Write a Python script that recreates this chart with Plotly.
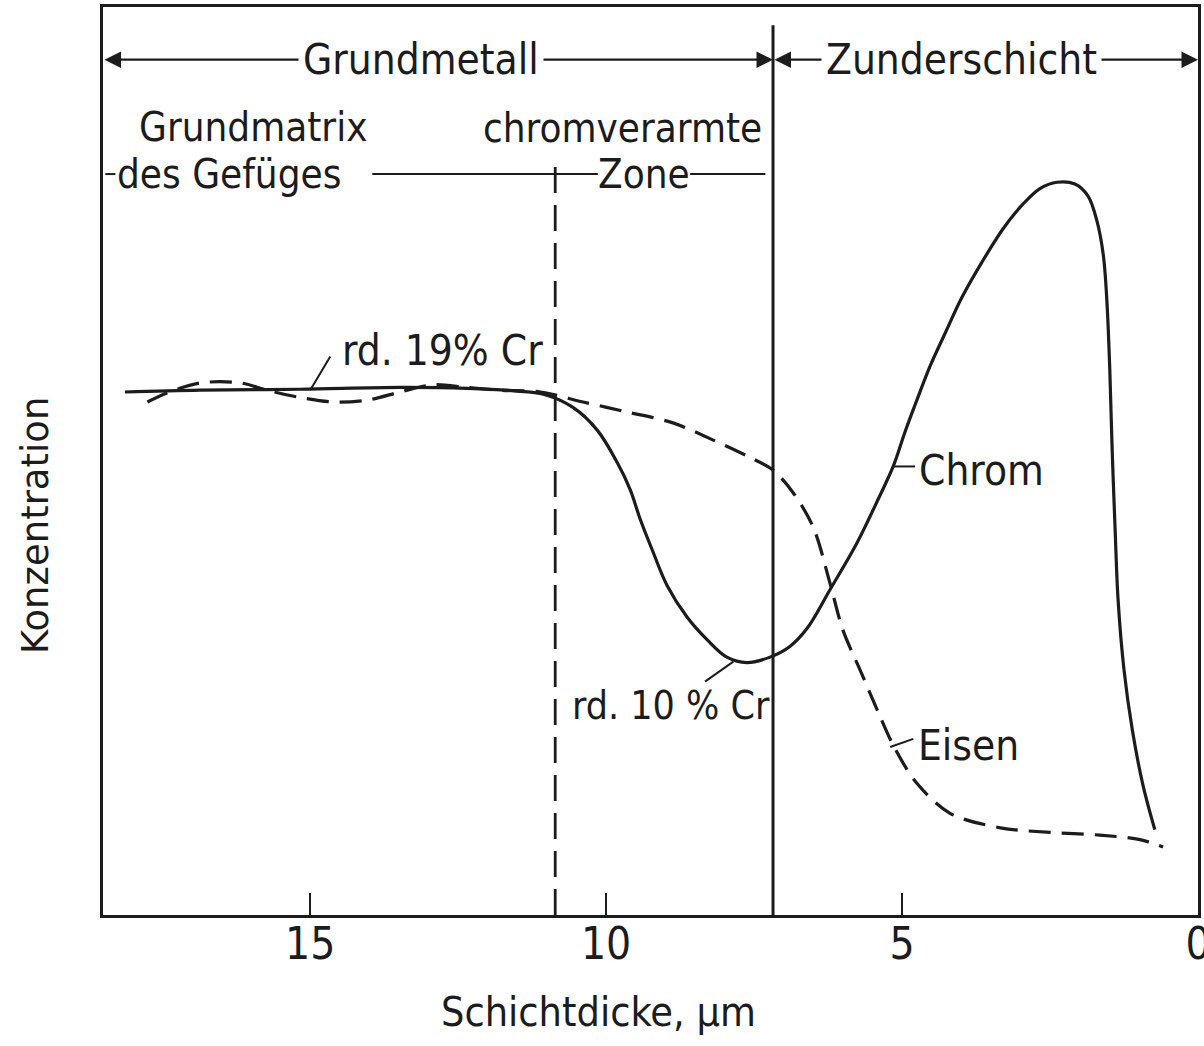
import plotly.graph_objects as go

# ---- data (x: Schichtdicke in µm, y: Konzentration, arbitrary units 0..100) ----
chrom_x = [18.13, 16.86, 15.17, 13.48, 12.35, 11.50, 11.03, 10.56, 10.15, 9.81, 9.59, 9.43,
           9.22, 8.97, 8.63, 8.29, 7.96, 7.62, 7.23, 6.89, 6.60, 6.22, 5.76, 5.41, 5.15,
           4.95, 4.75, 4.53, 4.27, 3.99, 3.65, 3.29, 2.97, 2.67, 2.38, 2.08, 1.86, 1.71,
           1.60, 1.54, 1.49, 1.45, 1.40, 1.35, 1.25, 1.11, 0.93, 0.73]
chrom_y = [57.6, 57.8, 57.9, 58.1, 58.0, 57.7, 57.3, 55.9, 53.4, 49.8, 46.8, 43.7,
           40.2, 36.3, 32.8, 30.3, 28.4, 27.8, 28.4, 29.6, 31.6, 35.8, 41.0, 45.7, 49.4,
           53.2, 56.7, 60.4, 64.1, 68.0, 71.9, 75.6, 78.2, 80.0, 80.7, 80.5, 79.2, 76.5,
           72.7, 67.7, 60.0, 51.2, 42.4, 34.7, 27.0, 20.4, 14.3, 9.4]

eisen_x = [17.75, 17.42, 16.86, 16.18, 15.73, 15.17, 14.61, 14.04, 13.48, 12.92, 12.35,
           11.79, 11.11, 10.39, 9.65, 8.87, 8.19, 7.57, 7.18, 6.84, 6.50, 6.22, 6.00, 5.71,
           5.42, 5.15, 4.75, 4.19, 3.34, 2.50, 1.66, 0.98, 0.59]
eisen_y = [56.5, 57.5, 58.6, 58.6, 57.8, 57.0, 56.5, 56.7, 57.6, 58.4, 58.1,
           57.8, 57.6, 56.5, 55.4, 54.2, 52.3, 50.4, 49.0, 46.5, 42.7, 36.6, 31.4, 27.0,
           22.6, 18.7, 14.5, 11.2, 9.6, 9.1, 8.8, 8.3, 7.5]

x_ticks = [15, 10, 5, 0]
x_tick_labels = ["15", "10", "5", "0"]
zone_boundary = 10.86      # Grundmatrix | chromverarmte Zone
scale_boundary = 7.18      # Grundmetall | Zunderschicht
x_range = [18.50, 0]
y_range = [0, 100]

FONT = "DejaVu Sans Condensed, Liberation Sans Narrow, Roboto Condensed, DejaVu Sans, sans-serif"
INK = "#1c1c1c"

fig = go.Figure()
fig.add_trace(go.Scatter(x=chrom_x, y=chrom_y, mode="lines", name="Chrom",
                         line=dict(color=INK, width=3.2, shape="spline", smoothing=1.0)))
fig.add_trace(go.Scatter(x=eisen_x, y=eisen_y, mode="lines", name="Eisen",
                         line=dict(color=INK, width=3.2, dash="22px,11px", shape="spline", smoothing=0.9)))

# boundaries
fig.add_shape(type="line", x0=scale_boundary, x1=scale_boundary, y0=0, y1=98.0,
              line=dict(color=INK, width=3))
fig.add_shape(type="line", x0=zone_boundary, x1=zone_boundary, y0=0, y1=83.1,
              line=dict(color=INK, width=2.8, dash="26px,12px"))

# lines of lower header row
fig.add_shape(type="line", x0=18.46, x1=18.29, y0=81.6, y1=81.6, line=dict(color=INK, width=2))
fig.add_shape(type="line", x0=13.95, x1=10.14, y0=81.6, y1=81.6, line=dict(color=INK, width=2))
fig.add_shape(type="line", x0=8.58, x1=7.31, y0=81.6, y1=81.6, line=dict(color=INK, width=2))

# leader lines
fig.add_shape(type="line", x0=15.0, y0=57.8, x1=14.66, y1=61.5, line=dict(color=INK, width=2))
fig.add_shape(type="line", x0=7.85, y0=27.9, x1=8.33, y1=25.7, line=dict(color=INK, width=2))
fig.add_shape(type="line", x0=5.15, y0=49.4, x1=4.78, y1=49.4, line=dict(color=INK, width=2))
fig.add_shape(type="line", x0=5.20, y0=18.5, x1=4.81, y1=19.4, line=dict(color=INK, width=2))

ann = []
# double arrows of the top header row
for xa, xb in [(x_range[0], scale_boundary), (scale_boundary, x_range[1])]:
    ann.append(dict(x=xb, y=94.2, ax=xa, ay=94.2, xref="x", yref="y", axref="x", ayref="y",
                    text="", showarrow=True, arrowhead=2, arrowside="end+start",
                    arrowsize=1.5, arrowwidth=2.2, arrowcolor=INK))
txt = dict(font=dict(family=FONT, size=42, color=INK), showarrow=False, xref="x", yref="y")
txt2 = dict(font=dict(family=FONT, size=40, color=INK), showarrow=False, xref="x", yref="y")
ann.append(dict(x=13.13, y=94.2, text="Grundmetall", bgcolor="white", borderpad=4, **txt))
ann.append(dict(x=4.00, y=94.2, text="Zunderschicht", bgcolor="white", borderpad=4, **txt))
ann.append(dict(x=17.92, y=86.8, text="Grundmatrix", xanchor="left", **txt2))
ann.append(dict(x=18.29, y=81.6, text="des Gefüges", xanchor="left", **txt2))
ann.append(dict(x=7.33, y=86.7, text="chromverarmte", xanchor="right", **txt2))
ann.append(dict(x=9.36, y=81.6, text="Zone", **txt2))
ann.append(dict(x=12.77, y=62.2, text="rd. 19% Cr", **txt))
ann.append(dict(x=8.90, y=23.1, text="rd. 10 % Cr",
                font=dict(family=FONT, size=39, color=INK), showarrow=False, xref="x", yref="y"))
ann.append(dict(x=4.74, y=49.0, text="Chrom", xanchor="left", **txt))
ann.append(dict(x=4.76, y=18.7, text="Eisen", xanchor="left", **txt))

W, H = 1204, 1046
ML, MR, MT, MB = 103, 6, 7, 131
PW, PH = W - ML - MR, H - MT - MB

# axis titles (positions given in page pixels, converted to paper fractions)
ann.append(dict(x=(35 - ML) / PW, y=(H - MB - 526) / PH, xref="paper", yref="paper",
                text="Konzentration", textangle=-90, xanchor="center", yanchor="middle",
                showarrow=False, font=dict(family="DejaVu Sans, sans-serif", size=37, color=INK)))
ann.append(dict(x=(598 - ML) / PW, y=(H - MB - 1012) / PH, xref="paper", yref="paper",
                text="Schichtdicke, µm", xanchor="center", yanchor="middle",
                showarrow=False, font=dict(family=FONT, size=41, color=INK)))

fig.update_layout(
    width=W, height=H,
    margin=dict(l=ML, r=MR, t=MT, b=MB),
    paper_bgcolor="white", plot_bgcolor="white",
    showlegend=False,
    annotations=ann,
    font=dict(family=FONT, color=INK),
)
fig.update_xaxes(range=x_range, tickmode="array", tickvals=x_ticks, ticktext=x_tick_labels,
                 ticks="inside", ticklen=22, tickwidth=2, tickcolor=INK, automargin=False,
                 ticklabelstandoff=-12, ticklabeloverflow="allow",
                 showgrid=False, zeroline=False, showline=True, linecolor=INK, linewidth=2.5,
                 mirror=True, tickfont=dict(family=FONT, size=44, color=INK))
fig.update_yaxes(range=y_range, showticklabels=False, ticks="", showgrid=False, zeroline=False,
                 automargin=False, showline=True, linecolor=INK, linewidth=2.5, mirror=True)

fig.write_html("out.html", config={"displayModeBar": False},
               post_script="document.body.style.margin='0';document.body.style.overflow='hidden';")
